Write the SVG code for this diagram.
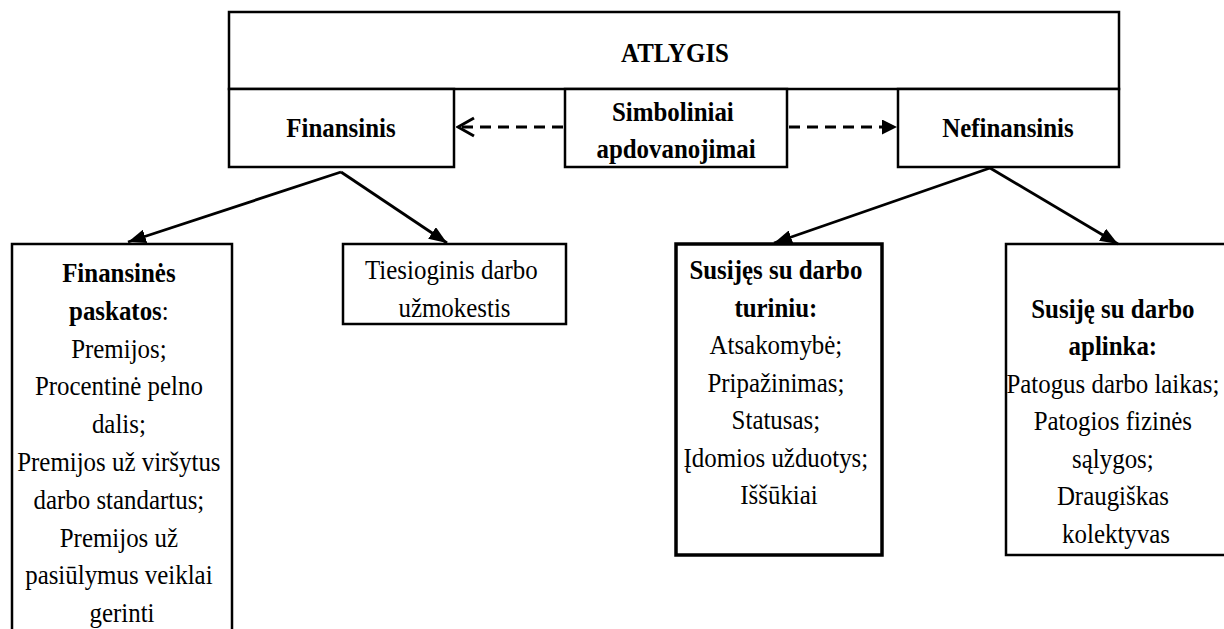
<svg xmlns="http://www.w3.org/2000/svg" width="1224" height="629" viewBox="0 0 1224 629">
  <style>
    .box { fill: #ffffff; stroke: #000000; stroke-width: 2.5; }
    .thick { stroke-width: 3.5; }
    .lbl { font-size: 26.5px; fill: #000000; text-anchor: middle; }
    .b { font-weight: bold; }
    .link { fill: none; stroke: #000000; stroke-width: 2.8; }
    .dash { fill: none; stroke: #000000; stroke-width: 3; stroke-dasharray: 11 7; }
  </style>
  <defs>
    <marker id="tri" viewBox="0 0 18 14" refX="18" refY="7" markerWidth="18" markerHeight="14" markerUnits="userSpaceOnUse" orient="auto">
      <path d="M0,0 L18,7 L0,14 z" fill="#000000"/>
    </marker>
    <marker id="triSmall" viewBox="0 0 15 15" refX="15" refY="7.5" markerWidth="15" markerHeight="15" markerUnits="userSpaceOnUse" orient="auto">
      <path d="M0,0 L15,7.5 L0,15 z" fill="#000000"/>
    </marker>
    <marker id="chev" viewBox="0 0 20 22" refX="18" refY="11" markerWidth="20" markerHeight="22" markerUnits="userSpaceOnUse" orient="auto">
      <path d="M2,2 L18,11 L2,20" fill="none" stroke="#000000" stroke-width="3"/>
    </marker>
  </defs>

  <!-- header -->
  <g id="atlygis">
    <rect class="box" x="229" y="12" width="890" height="77"/>
    <text class="lbl b" font-family="Liberation Serif, serif" transform="translate(675,0) scale(0.94,1)" x="0" y="62">ATLYGIS</text>
  </g>

  <g id="finansinis">
    <rect class="box" x="229" y="89" width="225" height="78"/>
    <text class="lbl b" font-family="Liberation Serif, serif" transform="translate(341,0) scale(0.94,1)" x="0" y="137">Finansinis</text>
  </g>

  <g id="simboliniai">
    <rect class="box" x="565" y="89" width="222" height="78"/>
    <text class="lbl b" font-family="Liberation Serif, serif" transform="translate(676,0) scale(0.94,1)">
      <tspan x="0" y="121">Simboliniai</tspan>
      <tspan x="0" y="158">apdovanojimai</tspan>
    </text>
  </g>

  <g id="nefinansinis">
    <rect class="box" x="898" y="89" width="221" height="78"/>
    <text class="lbl b" font-family="Liberation Serif, serif" transform="translate(1008,0) scale(0.94,1)" x="0" y="137">Nefinansinis</text>
  </g>

  <!-- lower level -->
  <g id="finansines-paskatos">
    <rect class="box" x="12" y="244" width="220" height="400"/>
    <text class="lbl" font-family="Liberation Serif, serif" transform="translate(122,0) scale(0.94,1)">
      <tspan x="0" y="282" class="b">Finansinės</tspan>
      <tspan x="0" y="319.8"><tspan class="b">paskatos</tspan>:</tspan>
      <tspan x="0" y="357.6">Premijos;</tspan>
      <tspan x="0" y="395.4">Procentinė pelno</tspan>
      <tspan x="0" y="433.2">dalis;</tspan>
      <tspan x="0" y="471">Premijos už viršytus</tspan>
      <tspan x="0" y="508.8">darbo standartus;</tspan>
      <tspan x="0" y="546.6">Premijos už</tspan>
      <tspan x="0" y="584.4">pasiūlymus veiklai</tspan>
      <tspan x="0" y="622.2">gerinti</tspan>
    </text>
  </g>

  <g id="tiesioginis">
    <rect class="box" x="343" y="244" width="223" height="80"/>
    <text class="lbl" font-family="Liberation Serif, serif" transform="translate(454.5,0) scale(0.94,1)">
      <tspan x="0" y="279">Tiesioginis darbo</tspan>
      <tspan x="0" y="317">užmokestis</tspan>
    </text>
  </g>

  <g id="darbo-turinys">
    <rect class="box thick" x="676" y="244" width="206" height="311"/>
    <text class="lbl" font-family="Liberation Serif, serif" transform="translate(779,0) scale(0.94,1)">
      <tspan x="0" y="279" class="b">Susijęs su darbo</tspan>
      <tspan x="0" y="316.6" class="b">turiniu:</tspan>
      <tspan x="0" y="354">Atsakomybė;</tspan>
      <tspan x="0" y="391.6">Pripažinimas;</tspan>
      <tspan x="0" y="429">Statusas;</tspan>
      <tspan x="0" y="466.6">Įdomios užduotys;</tspan>
      <tspan x="0" y="504">Iššūkiai</tspan>
    </text>
  </g>

  <g id="darbo-aplinka">
    <rect class="box" stroke-width="4" x="1006" y="244" width="232" height="311"/>
    <text class="lbl" font-family="Liberation Serif, serif" transform="translate(1116,0) scale(0.94,1)">
      <tspan x="0" y="318" class="b">Susiję su darbo</tspan>
      <tspan x="0" y="355.5" class="b">aplinka:</tspan>
      <tspan x="0" y="393">Patogus darbo laikas;</tspan>
      <tspan x="0" y="430.5">Patogios fizinės</tspan>
      <tspan x="0" y="468">sąlygos;</tspan>
      <tspan x="0" y="505.5">Draugiškas</tspan>
      <tspan x="0" y="543">kolektyvas</tspan>
    </text>
  </g>

  <!-- connectors -->
  <g id="connectors">
    <line class="dash" x1="563" y1="127" x2="458" y2="127" marker-end="url(#chev)"/>
    <line class="dash" x1="789" y1="127" x2="897" y2="127" marker-end="url(#triSmall)"/>
    <line class="link" x1="341" y1="172" x2="128" y2="242" marker-end="url(#tri)"/>
    <line class="link" x1="341" y1="172" x2="447" y2="243" marker-end="url(#tri)"/>
    <line class="link" x1="990" y1="168" x2="774" y2="243" marker-end="url(#tri)"/>
    <line class="link" x1="990" y1="168" x2="1118" y2="244" marker-end="url(#tri)"/>
  </g>
</svg>
